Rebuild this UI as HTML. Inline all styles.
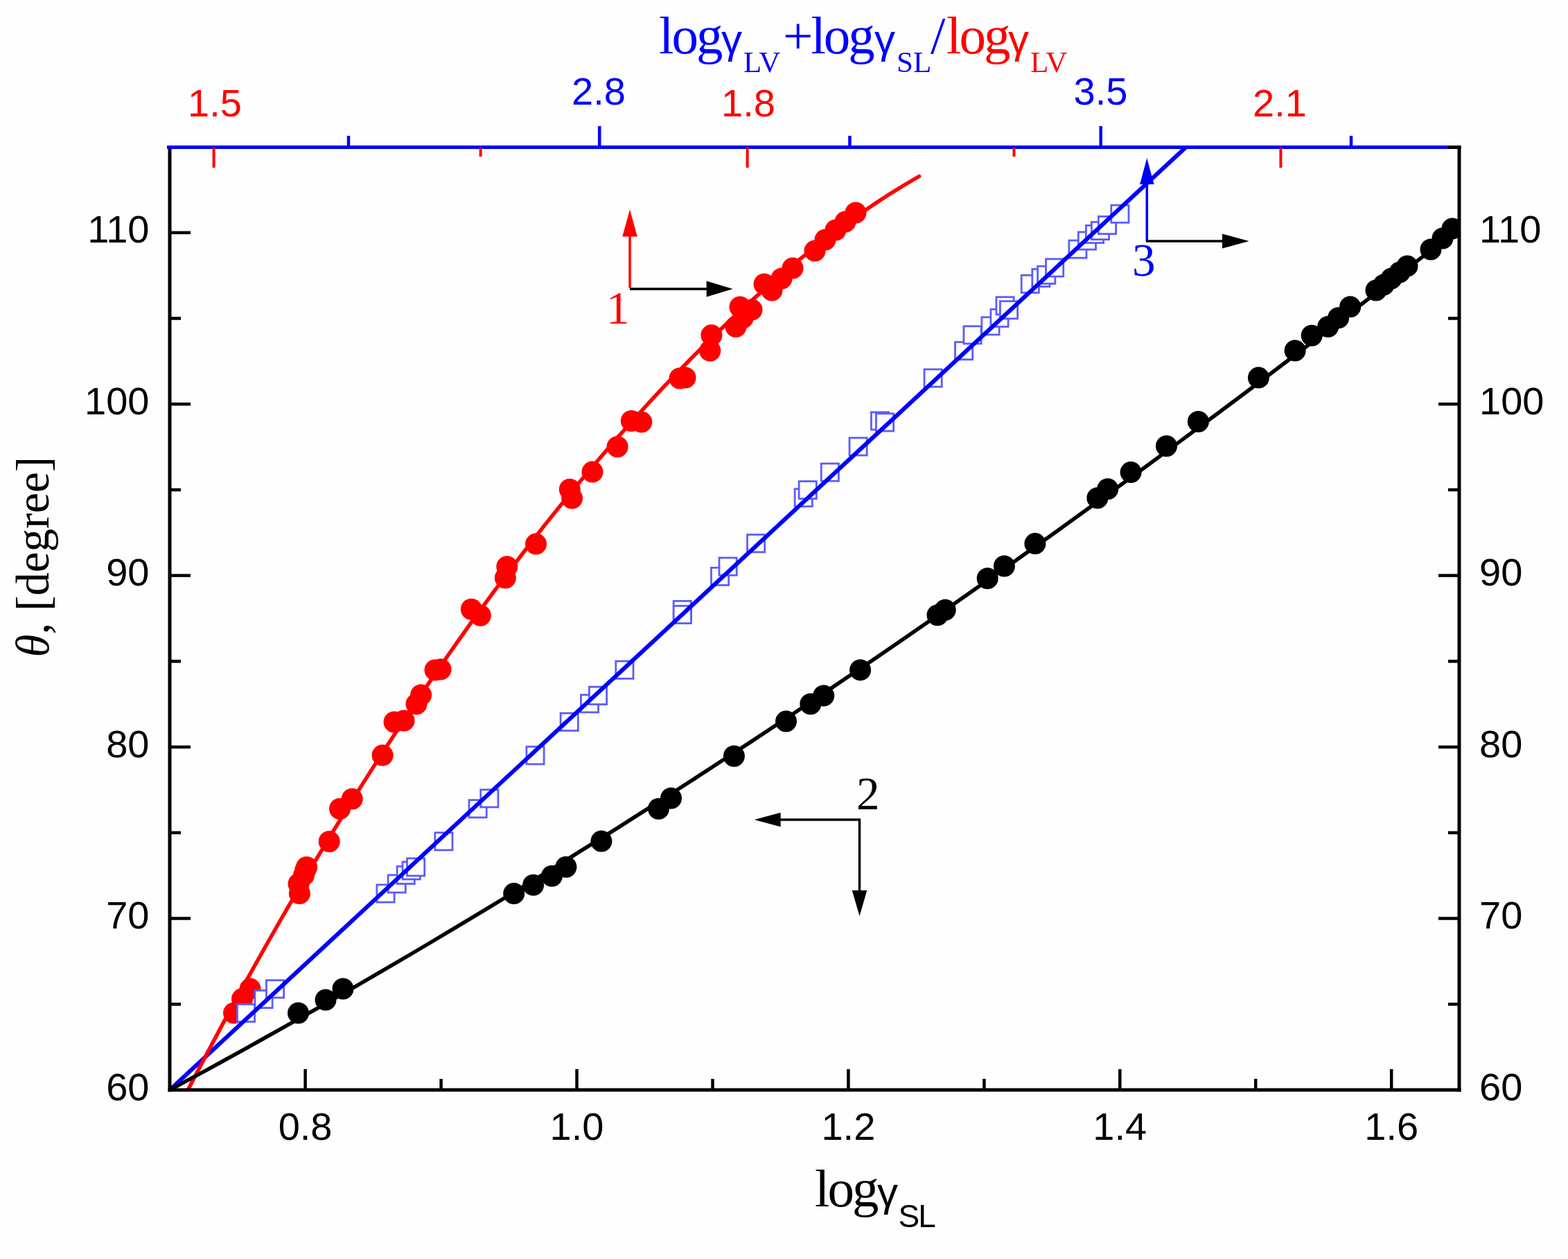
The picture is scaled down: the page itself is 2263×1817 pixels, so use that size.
<!DOCTYPE html>
<html><head><meta charset="utf-8"><title>plot</title>
<style>
html,body{margin:0;padding:0;background:#fefefe;}
svg{display:block;}
.sans{font-family:"Liberation Sans",Arial,sans-serif;}
.serif{font-family:"Liberation Serif","Times New Roman",serif;}
</style></head><body>
<svg width="2263" height="1817" viewBox="0 0 2263 1817">
<rect width="2263" height="1817" fill="#fefefe"/>
<defs><clipPath id="pc"><rect x="245" y="212.5" width="1861" height="1360.5"/></clipPath></defs>
<g clip-path="url(#pc)">
<g fill="#ff0000"><circle cx="337.5" cy="1462" r="15.5"/><circle cx="349.5" cy="1441.6" r="15.5"/><circle cx="361" cy="1427.1" r="15.5"/><circle cx="432.4" cy="1289.6" r="15.5"/><circle cx="431" cy="1275.5" r="15.5"/><circle cx="438.5" cy="1263" r="15.5"/><circle cx="440.5" cy="1256.5" r="15.5"/><circle cx="442.5" cy="1251.5" r="15.5"/><circle cx="475.2" cy="1214.5" r="15.5"/><circle cx="490.5" cy="1167.3" r="15.5"/><circle cx="508.2" cy="1153" r="15.5"/><circle cx="552.1" cy="1090" r="15.5"/><circle cx="569" cy="1042" r="15.5"/><circle cx="583" cy="1040" r="15.5"/><circle cx="601" cy="1016" r="15.5"/><circle cx="607.6" cy="1003" r="15.5"/><circle cx="628" cy="967" r="15.5"/><circle cx="636" cy="966" r="15.5"/><circle cx="680.3" cy="879.3" r="15.5"/><circle cx="693.3" cy="888.2" r="15.5"/><circle cx="731.8" cy="817.7" r="15.5"/><circle cx="729.3" cy="834" r="15.5"/><circle cx="773.5" cy="785.1" r="15.5"/><circle cx="822.3" cy="706.2" r="15.5"/><circle cx="825.6" cy="719.1" r="15.5"/><circle cx="855" cy="681.1" r="15.5"/><circle cx="891.1" cy="644.7" r="15.5"/><circle cx="911.3" cy="607.5" r="15.5"/><circle cx="925.8" cy="609.1" r="15.5"/><circle cx="981" cy="546" r="15.5"/><circle cx="989" cy="545" r="15.5"/><circle cx="1026.9" cy="483.7" r="15.5"/><circle cx="1024.7" cy="506.2" r="15.5"/><circle cx="1062" cy="471.5" r="15.5"/><circle cx="1072" cy="459" r="15.5"/><circle cx="1068" cy="443" r="15.5"/><circle cx="1085" cy="447" r="15.5"/><circle cx="1103" cy="410" r="15.5"/><circle cx="1114" cy="419" r="15.5"/><circle cx="1128" cy="402" r="15.5"/><circle cx="1144" cy="387" r="15.5"/><circle cx="1176" cy="362" r="15.5"/><circle cx="1191" cy="346" r="15.5"/><circle cx="1206" cy="332" r="15.5"/><circle cx="1220" cy="320" r="15.5"/><circle cx="1235" cy="307" r="15.5"/></g>
<g fill="#fefefe" stroke="#5c5cff" stroke-width="2.8"><rect x="342.4" y="1449.4" width="25.2" height="25.2"/><rect x="367.9" y="1429.4" width="25.2" height="25.2"/><rect x="384.4" y="1414.7" width="25.2" height="25.2"/><rect x="543.9" y="1276.9" width="25.2" height="25.2"/><rect x="560.1" y="1262.9" width="25.2" height="25.2"/><rect x="573.1" y="1250.3" width="25.2" height="25.2"/><rect x="581.1" y="1243.8" width="25.2" height="25.2"/><rect x="587.5" y="1238.8" width="25.2" height="25.2"/><rect x="627.8" y="1201.7" width="25.2" height="25.2"/><rect x="677" y="1154.6" width="25.2" height="25.2"/><rect x="693.7" y="1139.7" width="25.2" height="25.2"/><rect x="759.9" y="1077.6" width="25.2" height="25.2"/><rect x="809.1" y="1029.3" width="25.2" height="25.2"/><rect x="838.4" y="1002.8" width="25.2" height="25.2"/><rect x="850.4" y="991.3" width="25.2" height="25.2"/><rect x="888.8" y="954.2" width="25.2" height="25.2"/><rect x="972.2" y="867.4" width="25.2" height="25.2"/><rect x="972.2" y="874.4" width="25.2" height="25.2"/><rect x="1026.5" y="819.3" width="25.2" height="25.2"/><rect x="1038" y="805" width="25.2" height="25.2"/><rect x="1078.5" y="771.6" width="25.2" height="25.2"/><rect x="1147.1" y="705.7" width="25.2" height="25.2"/><rect x="1153.1" y="694.6" width="25.2" height="25.2"/><rect x="1185.2" y="669" width="25.2" height="25.2"/><rect x="1226" y="631.9" width="25.2" height="25.2"/><rect x="1257.4" y="594.9" width="25.2" height="25.2"/><rect x="1264.4" y="596.9" width="25.2" height="25.2"/><rect x="1334" y="533" width="25.2" height="25.2"/><rect x="1378.5" y="493.7" width="25.2" height="25.2"/><rect x="1390.9" y="470.8" width="25.2" height="25.2"/><rect x="1416.9" y="457.8" width="25.2" height="25.2"/><rect x="1429.9" y="446.3" width="25.2" height="25.2"/><rect x="1437.9" y="428.7" width="25.2" height="25.2"/><rect x="1443.4" y="434.7" width="25.2" height="25.2"/><rect x="1474.2" y="397.2" width="25.2" height="25.2"/><rect x="1489.8" y="388.4" width="25.2" height="25.2"/><rect x="1497.6" y="384.2" width="25.2" height="25.2"/><rect x="1509.5" y="373.8" width="25.2" height="25.2"/><rect x="1542.8" y="347" width="25.2" height="25.2"/><rect x="1556.3" y="334.9" width="25.2" height="25.2"/><rect x="1567.4" y="325.4" width="25.2" height="25.2"/><rect x="1575.4" y="320.4" width="25.2" height="25.2"/><rect x="1585.4" y="312.4" width="25.2" height="25.2"/><rect x="1603.8" y="296.1" width="25.2" height="25.2"/></g>
<line x1="245" y1="1573" x2="1712" y2="212" stroke="#0000ff" stroke-width="6"/>
<polyline points="262,1590.8 277.4,1561 292.9,1531.5 308.3,1502.4 323.7,1473.6 339.1,1445.2 354.6,1417.2 370,1389.4 385.4,1362 400.8,1335 416.3,1308.2 431.7,1281.8 447.1,1255.7 462.6,1229.9 478,1204.4 493.4,1179.3 508.8,1154.4 524.3,1129.9 539.7,1105.6 555.1,1081.7 570.6,1058 586,1034.7 601.4,1011.6 616.8,988.9 632.3,966.4 647.7,944.2 663.1,922.3 678.5,900.7 694,879.4 709.4,858.4 724.8,837.6 740.3,817.2 755.7,797 771.1,777.1 786.5,757.4 802,738.1 817.4,719 832.8,700.2 848.2,681.7 863.7,663.5 879.1,645.6 894.5,627.9 910,610.5 925.4,593.5 940.8,576.7 956.2,560.1 971.7,543.9 987.1,528 1002.5,512.3 1017.9,496.9 1033.4,481.9 1048.8,467.1 1064.2,452.6 1079.7,438.4 1095.1,424.6 1110.5,411 1125.9,397.7 1141.4,384.8 1156.8,372.1 1172.2,359.8 1187.7,347.8 1203.1,336.1 1218.5,324.7 1233.9,313.7 1249.4,303 1264.8,292.6 1280.2,282.5 1295.6,272.8 1311.1,263.5 1326.5,254.5" fill="none" stroke="#ff0000" stroke-width="5.5" stroke-linejoin="round" stroke-linecap="round"/>
<polyline points="245,1573 272,1558.4 299.1,1543.8 326.1,1529 353.1,1514.1 380.1,1499 407.2,1483.9 434.2,1468.7 461.2,1453.3 488.3,1437.9 515.3,1422.3 542.3,1406.7 569.3,1390.9 596.4,1375 623.4,1359 650.4,1342.9 677.5,1326.7 704.5,1310.4 731.5,1294 758.6,1277.4 785.6,1260.8 812.6,1244.1 839.6,1227.2 866.7,1210.3 893.7,1193.3 920.7,1176.1 947.8,1158.9 974.8,1141.5 1001.8,1124.1 1028.8,1106.5 1055.9,1088.8 1082.9,1071.1 1109.9,1053.2 1137,1035.3 1164,1017.2 1191,999.1 1218,980.8 1245.1,962.5 1272.1,944 1299.1,925.5 1326.2,906.8 1353.2,888.1 1380.2,869.3 1407.2,850.3 1434.3,831.3 1461.3,812.2 1488.3,793 1515.4,773.7 1542.4,754.3 1569.4,734.8 1596.4,715.2 1623.5,695.5 1650.5,675.7 1677.5,655.9 1704.6,635.9 1731.6,615.8 1758.6,595.7 1785.7,575.5 1812.7,555.2 1839.7,534.8 1866.7,514.3 1893.8,493.7 1920.8,473 1947.8,452.2 1974.9,431.4 2001.9,410.4 2028.9,389.4 2055.9,368.3 2083,347.1 2110,325.8" fill="none" stroke="#000" stroke-width="5.5" stroke-linejoin="round"/>
<g fill="#000"><circle cx="430.5" cy="1462" r="15.5"/><circle cx="470" cy="1443" r="15.5"/><circle cx="495" cy="1427" r="15.5"/><circle cx="741.7" cy="1289.6" r="15.5"/><circle cx="769.6" cy="1277.2" r="15.5"/><circle cx="796.5" cy="1264.2" r="15.5"/><circle cx="816.9" cy="1251.2" r="15.5"/><circle cx="867.9" cy="1214.1" r="15.5"/><circle cx="950.5" cy="1167.2" r="15.5"/><circle cx="968.5" cy="1152" r="15.5"/><circle cx="1059.4" cy="1091.2" r="15.5"/><circle cx="1134.5" cy="1041.1" r="15.5"/><circle cx="1169.8" cy="1016" r="15.5"/><circle cx="1188.7" cy="1004" r="15.5"/><circle cx="1241.6" cy="966.9" r="15.5"/><circle cx="1353" cy="887.7" r="15.5"/><circle cx="1364.2" cy="880.2" r="15.5"/><circle cx="1425.2" cy="834.7" r="15.5"/><circle cx="1449.4" cy="817" r="15.5"/><circle cx="1493.9" cy="784.6" r="15.5"/><circle cx="1583.9" cy="718.7" r="15.5"/><circle cx="1598.7" cy="705.8" r="15.5"/><circle cx="1632.1" cy="681.6" r="15.5"/><circle cx="1683.5" cy="643.7" r="15.5"/><circle cx="1729.4" cy="608.5" r="15.5"/><circle cx="1816.4" cy="545.1" r="15.5"/><circle cx="1869.1" cy="506" r="15.5"/><circle cx="1893.2" cy="484.3" r="15.5"/><circle cx="1916.7" cy="471.5" r="15.5"/><circle cx="1931.6" cy="458.7" r="15.5"/><circle cx="1948.7" cy="442.7" r="15.5"/><circle cx="1986" cy="419" r="15.5"/><circle cx="1997" cy="411" r="15.5"/><circle cx="2008" cy="402" r="15.5"/><circle cx="2020" cy="393" r="15.5"/><circle cx="2031" cy="384" r="15.5"/><circle cx="2065" cy="360" r="15.5"/><circle cx="2082" cy="344" r="15.5"/><circle cx="2096" cy="330" r="15.5"/></g>
</g>
<g stroke="#000" stroke-width="5" fill="none">
<line x1="245" y1="210" x2="245" y2="1575.5"/>
<line x1="2106" y1="210" x2="2106" y2="1575.5"/>
<line x1="242.5" y1="1573" x2="2108.5" y2="1573"/>
<line x1="242.5" y1="212.5" x2="2108.5" y2="212.5"/>
</g>
<g stroke="#000" stroke-width="4.5"><line x1="245" y1="1449.3" x2="261" y2="1449.3"/><line x1="2106" y1="1449.3" x2="2090" y2="1449.3"/><line x1="245" y1="1325.5" x2="275" y2="1325.5"/><line x1="2106" y1="1325.5" x2="2076" y2="1325.5"/><line x1="245" y1="1201.8" x2="261" y2="1201.8"/><line x1="2106" y1="1201.8" x2="2090" y2="1201.8"/><line x1="245" y1="1078.1" x2="275" y2="1078.1"/><line x1="2106" y1="1078.1" x2="2076" y2="1078.1"/><line x1="245" y1="954.4" x2="261" y2="954.4"/><line x1="2106" y1="954.4" x2="2090" y2="954.4"/><line x1="245" y1="830.6" x2="275" y2="830.6"/><line x1="2106" y1="830.6" x2="2076" y2="830.6"/><line x1="245" y1="706.9" x2="261" y2="706.9"/><line x1="2106" y1="706.9" x2="2090" y2="706.9"/><line x1="245" y1="583.2" x2="275" y2="583.2"/><line x1="2106" y1="583.2" x2="2076" y2="583.2"/><line x1="245" y1="459.5" x2="261" y2="459.5"/><line x1="2106" y1="459.5" x2="2090" y2="459.5"/><line x1="245" y1="335.8" x2="275" y2="335.8"/><line x1="2106" y1="335.8" x2="2076" y2="335.8"/><line x1="440.6" y1="1573" x2="440.6" y2="1543"/><line x1="636.6" y1="1573" x2="636.6" y2="1557"/><line x1="832.5" y1="1573" x2="832.5" y2="1543"/><line x1="1028.5" y1="1573" x2="1028.5" y2="1557"/><line x1="1224.4" y1="1573" x2="1224.4" y2="1543"/><line x1="1420.4" y1="1573" x2="1420.4" y2="1557"/><line x1="1616.3" y1="1573" x2="1616.3" y2="1543"/><line x1="1812.2" y1="1573" x2="1812.2" y2="1557"/><line x1="2008.2" y1="1573" x2="2008.2" y2="1543"/></g>
<line x1="241" y1="212.5" x2="2090" y2="212.5" stroke="#0000ff" stroke-width="5"/>
<g stroke="#0000ff" stroke-width="4.5"><line x1="503" y1="212" x2="503" y2="196"/><line x1="865.2" y1="212" x2="865.2" y2="182"/><line x1="1226.4" y1="212" x2="1226.4" y2="196"/><line x1="1588.7" y1="212" x2="1588.7" y2="182"/><line x1="1950" y1="212" x2="1950" y2="196"/></g>
<g stroke="#ff0000" stroke-width="4"><line x1="308.6" y1="213" x2="308.6" y2="242"/><line x1="693.6" y1="213" x2="693.6" y2="226"/><line x1="1078.6" y1="213" x2="1078.6" y2="242"/><line x1="1463.5" y1="213" x2="1463.5" y2="226"/><line x1="1848.4" y1="213" x2="1848.4" y2="242"/></g>
<g class="sans" font-size="56" fill="#000"><text x="215.5" y="1587.5" text-anchor="end">60</text><text x="2135" y="1587.5">60</text><text x="215.5" y="1340" text-anchor="end">70</text><text x="2135" y="1340">70</text><text x="215.5" y="1092.6" text-anchor="end">80</text><text x="2135" y="1092.6">80</text><text x="215.5" y="845.1" text-anchor="end">90</text><text x="2135" y="845.1">90</text><text x="215.5" y="597.7" text-anchor="end">100</text><text x="2135" y="597.7">100</text><text x="215.5" y="350.2" text-anchor="end">110</text><text x="2135" y="350.2">110</text><text x="440.6" y="1645" text-anchor="middle">0.8</text><text x="832.5" y="1645" text-anchor="middle">1.0</text><text x="1224.4" y="1645" text-anchor="middle">1.2</text><text x="1616.3" y="1645" text-anchor="middle">1.4</text><text x="2008.2" y="1645" text-anchor="middle">1.6</text></g>
<g class="sans" font-size="56" fill="#ff0000"><text x="310" y="168" text-anchor="middle">1.5</text><text x="1080" y="168" text-anchor="middle">1.8</text><text x="1847" y="168" text-anchor="middle">2.1</text></g>
<g class="sans" font-size="56" fill="#0000ff"><text x="864" y="151" text-anchor="middle">2.8</text><text x="1588.5" y="151" text-anchor="middle">3.5</text></g>
<g class="serif" font-size="77" fill="#0000ff"><text x="951" y="77" letter-spacing="-3">log</text><text x="1041" y="77"><tspan class="sans" font-size="60">&#947;</tspan></text><text x="1073" y="104" font-size="43">LV</text><text x="1130" y="77" letter-spacing="-3">+log</text><text x="1262" y="77"><tspan class="sans" font-size="60">&#947;</tspan></text><text x="1294" y="104" font-size="43">SL</text><text x="1343" y="77">/</text></g>
<g class="serif" font-size="77" fill="#ff0000"><text x="1366" y="77" letter-spacing="-3">log</text><text x="1455" y="77"><tspan class="sans" font-size="60">&#947;</tspan></text><text x="1487" y="104" font-size="43">LV</text></g>
<g class="serif" font-size="77" fill="#000"><text x="1176" y="1741" letter-spacing="-3">log</text><text x="1266" y="1741"><tspan class="sans" font-size="60">&#947;</tspan></text></g>
<text class="sans" x="1296.5" y="1771" font-size="46" letter-spacing="-2" fill="#000">SL</text>
<text class="serif" font-size="67" fill="#000" transform="translate(70,948.5) rotate(-90)"><tspan font-style="italic">&#952;</tspan>, [degree]</text>
<line x1="909" y1="415.5" x2="909" y2="339.6" stroke="#ff0000" stroke-width="3.5"/><polygon points="909,302.6 919.8,341.6 898.2,341.6" fill="#ff0000"/><line x1="909" y1="417" x2="1021.6" y2="417" stroke="#000" stroke-width="3.5"/><polygon points="1057.6,417 1019.6,428.6 1019.6,405.4" fill="#000"/><line x1="1240.5" y1="1183" x2="1124.6" y2="1183" stroke="#000" stroke-width="3.5"/><polygon points="1088.6,1183 1126.6,1172.8 1126.6,1193.2" fill="#000"/><line x1="1240.5" y1="1181.5" x2="1240.5" y2="1287" stroke="#000" stroke-width="3.5"/><polygon points="1240.5,1322 1229.7,1285 1251.3,1285" fill="#000"/><line x1="1655.3" y1="348.5" x2="1655.3" y2="264" stroke="#0000ff" stroke-width="3.5"/><polygon points="1655.3,228 1665.5,266 1645.1,266" fill="#0000ff"/><line x1="1654" y1="348" x2="1766" y2="348" stroke="#000" stroke-width="3.5"/><polygon points="1802.7,348 1764,358.5 1764,337.5" fill="#000"/>
<text class="serif" x="875" y="467" font-size="67" fill="#ff0000">1</text>
<text class="serif" x="1236" y="1168" font-size="67" fill="#000">2</text>
<text class="serif" x="1634" y="398" font-size="67" fill="#0000ff">3</text>
</svg>
</body></html>
